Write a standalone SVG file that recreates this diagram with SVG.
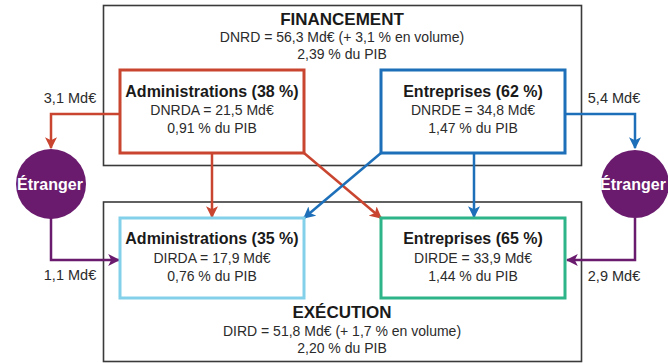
<svg xmlns="http://www.w3.org/2000/svg" width="668" height="363" viewBox="0 0 668 363">
<style>
text{font-family:"Liberation Sans",Arial,sans-serif;fill:#2b2b2b;text-anchor:middle}
.h{font-weight:bold;font-size:17px;fill:#1a1a1a}
.b{font-weight:bold;font-size:16px;fill:#1a1a1a}
.t{font-size:14px}
.l{font-size:14.5px}
.w{font-weight:bold;font-size:16px;fill:#fff}
.outer{fill:none;stroke:#3a3a3a;stroke-width:1.6}
.box{fill:#fff;stroke-width:3}
.c{fill:none;stroke-width:2.5}
</style>
<defs>
<marker id="aR" markerUnits="userSpaceOnUse" markerWidth="12" markerHeight="12" viewBox="0 0 10 10" refX="9" refY="5" orient="auto"><path d="M0,0 L10,5 L0,10 L2.5,5 z" fill="#c9452f"/></marker>
<marker id="aB" markerUnits="userSpaceOnUse" markerWidth="12" markerHeight="12" viewBox="0 0 10 10" refX="9" refY="5" orient="auto"><path d="M0,0 L10,5 L0,10 L2.5,5 z" fill="#1c6fb8"/></marker>
<marker id="aP" markerUnits="userSpaceOnUse" markerWidth="12" markerHeight="12" viewBox="0 0 10 10" refX="9" refY="5" orient="auto"><path d="M0,0 L10,5 L0,10 L2.5,5 z" fill="#6a1b6e"/></marker>
</defs>

<g id="financement">
<rect class="outer" x="103.5" y="5.5" width="478" height="160"/>
<text class="h" x="342" y="25">FINANCEMENT</text>
<text class="t" x="342" y="42">DNRD = 56,3 Md€ (+ 3,1 % en volume)</text>
<text class="t" x="342" y="59">2,39 % du PIB</text>
</g>
<g id="execution">
<rect class="outer" x="103.5" y="202" width="478" height="159.5"/>
<text class="h" x="342" y="318">EXÉCUTION</text>
<text class="t" x="342" y="336">DIRD = 51,8 Md€ (+ 1,7 % en volume)</text>
<text class="t" x="342" y="353">2,20 % du PIB</text>
</g>

<g id="connectors">
<polyline class="c" stroke="#c9452f" points="120,114 51,114 51,148" marker-end="url(#aR)"/>
<polyline class="c" stroke="#1c6fb8" points="565,114 635,114 635,148" marker-end="url(#aB)"/>
<polyline class="c" stroke="#6a1b6e" points="51,218 51,260 119,260" marker-end="url(#aP)"/>
<polyline class="c" stroke="#6a1b6e" points="635,218 635,260 567,260" marker-end="url(#aP)"/>
<line class="c" stroke="#c9452f" x1="212" y1="153" x2="212" y2="217" marker-end="url(#aR)"/>
<line class="c" stroke="#c9452f" x1="304" y1="153" x2="381" y2="218" marker-end="url(#aR)"/>
<line class="c" stroke="#1c6fb8" x1="381" y1="153" x2="304" y2="218" marker-end="url(#aB)"/>
<line class="c" stroke="#1c6fb8" x1="474" y1="153" x2="474" y2="217" marker-end="url(#aB)"/>
<text class="l" x="70" y="103">3,1 Md€</text>
<text class="l" x="614" y="103">5,4 Md€</text>
<text class="l" x="70" y="280">1,1 Md€</text>
<text class="l" x="614" y="281">2,9 Md€</text>
</g>

<g id="fin-admin">
<rect class="box" stroke="#c9452f" x="120" y="70" width="184" height="83"/>
<text class="b" x="212" y="97">Administrations (38 %)</text>
<text class="t" x="212" y="115">DNRDA = 21,5 Md€</text>
<text class="t" x="212" y="133">0,91 % du PIB</text>
</g>
<g id="fin-entr">
<rect class="box" stroke="#1c6fb8" x="381" y="70" width="184" height="83"/>
<text class="b" x="473" y="97">Entreprises (62 %)</text>
<text class="t" x="473" y="115">DNRDE = 34,8 Md€</text>
<text class="t" x="473" y="133">1,47 % du PIB</text>
</g>
<g id="exe-admin">
<rect class="box" stroke="#82d0e9" x="120" y="218" width="184" height="80"/>
<text class="b" x="212" y="244">Administrations (35 %)</text>
<text class="t" x="212" y="262.5">DIRDA = 17,9 Md€</text>
<text class="t" x="212" y="281">0,76 % du PIB</text>
</g>
<g id="exe-entr">
<rect class="box" stroke="#2db488" x="381" y="218" width="184" height="80"/>
<text class="b" x="473" y="244">Entreprises (65 %)</text>
<text class="t" x="473" y="262.5">DIRDE = 33,9 Md€</text>
<text class="t" x="473" y="281">1,44 % du PIB</text>
</g>
<g id="etranger-left">
<circle cx="51" cy="184" r="35" fill="#6a1b6e"/>
<text class="w" x="50" y="190">Étranger</text>
</g>
<g id="etranger-right">
<circle cx="635" cy="184" r="34" fill="#6a1b6e"/>
<text class="w" x="633" y="190">Étranger</text>
</g>
</svg>
